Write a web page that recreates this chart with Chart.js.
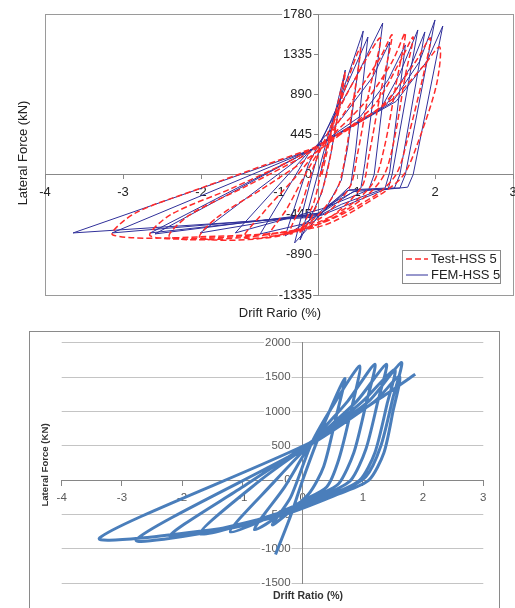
<!DOCTYPE html>
<html><head><meta charset="utf-8">
<script src="https://cdn.jsdelivr.net/npm/chart.js@4.4.1/dist/chart.umd.min.js"></script>
<style>
html,body{margin:0;padding:0;background:#fff;}
#wrap{position:relative;width:515px;height:608px;overflow:hidden;background:#fff;}
.box{position:absolute;left:0;width:515px;}
</style></head><body>
<div id="wrap">
<div class="box" style="top:0;height:320px"><canvas id="c1" width="515" height="320"></canvas></div>
<div class="box" style="top:320px;height:288px"><canvas id="c2" width="515" height="288"></canvas></div>
</div>
<script>
// ---------- top chart: tick labels ----------
const TOP_X_TICK_VALUES = [-4, -3, -2, -1, 0, 1, 2];
const TOP_X_TICK_LABELS = ['-4', '-3', '-2', '-1', '1', '2', '3'];
const TOP_Y_TICKS = [-1335, -890, -445, 0, 445, 890, 1335, 1780];
const TOP_SERIES_NAMES = ['Test-HSS 5', 'FEM-HSS 5'];
const TOP_X_TITLE = 'Drift Rario (%)';
const TOP_Y_TITLE = 'Lateral Force (kN)';

// ---------- top chart: series (drift, force) ----------
const TEST_HSS5 = [
 [-0.45,0],[-0.15,1137],[-0.3,400],[-0.42,-100],[-0.6,-500],[-0.73,-636],
 [-0.55,-300],[-0.42,200],[-0.25,700],[0.04,1403],[-0.05,800],[-0.15,200],[-0.25,-150],[-0.5,-450],[-0.86,-658],
 [-0.7,-300],[-0.55,100],[-0.3,600],[0.0,1100],[0.3,1514],[0.15,900],[0.0,200],[-0.1,-150],[-0.5,-500],[-1.12,-680],
 [-0.9,-380],[-0.6,100],[-0.3,500],[0.0,900],[0.3,1300],[0.45,1547],[0.3,900],[0.15,200],[0.05,-150],[-0.5,-550],[-1.44,-703],
 [-1.2,-420],[-0.8,-40],[-0.45,320],[0.1,800],[0.45,1250],[0.62,1569],[0.5,1000],[0.35,300],[0.2,-100],[-0.2,-400],[-1.0,-680],[-2.01,-703],
 [-1.8,-480],[-1.2,-150],[-0.6,200],[0.2,750],[0.55,1250],[0.72,1525],[0.62,1100],[0.48,400],[0.35,0],[0.1,-250],[-0.5,-550],[-1.5,-700],[-2.40,-692],
 [-2.15,-450],[-1.4,-120],[-0.7,200],[0.3,750],[0.75,1250],[0.94,1514],[0.85,1100],[0.65,400],[0.5,0],[0.2,-250],[-0.6,-580],[-1.8,-700],[-2.65,-680],
 [-2.4,-450],[-1.6,-150],[-0.8,180],[0.4,800],[0.85,1200],[1.06,1414],[1.02,1000],[0.8,400],[0.6,0],[0.3,-220],[-0.5,-580],[-2.0,-690],[-3.13,-669],
 [-2.85,-430],[-2.0,-150],[-1.2,100],[-0.6,280]
];
const FEM_HSS5 = [
 [-0.47,0],[-0.15,1159],[-0.33,250],[-0.45,-200],[-0.73,-725],
 [-0.52,-50],[-0.35,500],[0.08,1592],[-0.12,300],[-0.2,-60],[-0.4,-380],[-0.80,-758],
 [-0.58,-20],[-0.45,380],[-0.15,950],[0.14,1525],[-0.02,250],[-0.08,-120],[-0.42,-400],[-0.92,-680],
 [-0.62,120],[-0.35,560],[0.0,1100],[0.33,1680],[0.1,120],[0.05,-150],[-0.35,-330],[-0.55,-520],[-1.24,-658],
 [-0.63,220],[-0.2,620],[0.2,1080],[0.42,1469],[0.22,0],[0.15,-170],[-0.45,-380],[-1.56,-647],
 [-0.62,250],[0.05,650],[0.4,1050],[0.62,1437],[0.42,30],[0.36,-150],[-0.1,-170],[-0.45,-420],[-2.01,-647],
 [-0.61,265],[0.3,720],[0.55,1120],[0.78,1603],[0.45,0],[0.4,-160],[-0.12,-175],[-0.5,-430],[-2.59,-658],
 [-0.6,270],[0.38,780],[0.68,1180],[0.87,1581],[0.55,0],[0.48,-150],[-0.05,-190],[-0.48,-440],[-2.65,-647],
 [-0.61,265],[0.45,800],[0.8,1250],[1.0,1714],[0.62,0],[0.55,-150],[0.4,-150],[-0.45,-450],[-3.14,-647],
 [-0.6,270],[0.5,810],[0.9,1260],[1.10,1647],[0.72,0],[0.65,-140],[0.3,-170],[-0.2,-330],[-0.52,-470],[-3.64,-647],
 [-0.6,270]
];

// ---------- bottom chart ----------
const BOT_X_TICKS = [-4, -3, -2, -1, 0, 1, 2, 3];
const BOT_Y_TICKS = [-1500, -1000, -500, 0, 500, 1000, 1500, 2000];
const BOT_X_TITLE = 'Drift Ratio (%)';
const BOT_Y_TITLE = 'Lateral Force (KN)';
const FEM_CURVE = [
 [-0.45,-1080],[-0.2,-520],[0,0],[0.3,700],[0.70,1478],[0.55,900],[0.35,200],[0.1,-200],[-0.5,-650],
 [-0.2,-250],[0.15,540],[0.55,1150],[0.95,1662],[0.8,1000],[0.6,300],[0.4,-100],[0.0,-300],[-0.8,-720],
 [-0.3,-100],[0.15,545],[0.75,1150],[1.20,1687],[1.05,1100],[0.85,400],[0.6,-50],[0.3,-200],[-0.2,-400],[-1.2,-750],
 [-0.5,-50],[0.15,545],[0.9,1150],[1.39,1687],[1.25,1150],[1.05,450],[0.8,0],[0.4,-200],[-0.3,-450],[-1.7,-780],
 [-0.7,0],[0.15,545],[1.0,1150],[1.53,1612],[1.40,1100],[1.2,400],[0.95,0],[0.5,-200],[-0.4,-500],[-2.2,-820],
 [-1.0,-100],[0.12,545],[1.1,1150],[1.64,1711],[1.5,1200],[1.3,500],[1.05,50],[0.6,-180],[-0.2,-450],[-1.2,-700],[-2.76,-864],
 [0.1,500],[1.2,1150],[1.61,1512],[1.5,1000],[1.35,400],[1.1,0],[0.6,-200],[-0.3,-500],[-1.5,-720],[-3.37,-840],
 [0.12,545],[1.3,1200],[1.87,1541]
];

const toPts = arr => arr.map(p => ({x: p[0], y: p[1]}));
const noPad = s => { s.paddingLeft = 0; s.paddingRight = 0; s.paddingTop = 0; s.paddingBottom = 0; };

// ---------- top chart ----------
const topDecor = {
  id: 'topDecor',
  beforeDraw(chart) {
    const {ctx, chartArea: a} = chart;
    ctx.save();
    ctx.strokeStyle = '#9a9a9a'; ctx.lineWidth = 1;
    ctx.strokeRect(Math.round(a.left) + 0.5, Math.round(a.top) + 0.5, Math.round(a.right - a.left), Math.round(a.bottom - a.top));
    ctx.restore();
  },
  afterDraw(chart) {
    const {ctx, chartArea: a} = chart;
    ctx.save();
    ctx.fillStyle = '#222';
    ctx.font = '13px "Liberation Sans", Arial, sans-serif';
    ctx.textAlign = 'center'; ctx.textBaseline = 'middle';
    ctx.fillText(TOP_X_TITLE, 280, a.bottom + 18);
    ctx.translate(23, 153);
    ctx.rotate(-Math.PI / 2);
    ctx.fillText(TOP_Y_TITLE, 0, 0);
    ctx.restore();
    // legend
    const bx = a.right - 111, by = a.bottom - 45, bw = 98, bh = 33;
    ctx.save();
    ctx.fillStyle = '#fff'; ctx.fillRect(bx, by, bw, bh);
    ctx.strokeStyle = '#8a8a8a'; ctx.lineWidth = 1;
    ctx.strokeRect(bx + 0.5, by + 0.5, bw, bh);
    ctx.font = '13px "Liberation Sans", Arial, sans-serif';
    ctx.textBaseline = 'middle'; ctx.textAlign = 'left';
    chart.data.datasets.forEach((ds, i) => {
      const y = by + 9 + i * 16;
      ctx.strokeStyle = ds.borderColor; ctx.lineWidth = ds.borderWidth;
      ctx.setLineDash(ds.borderDash || []);
      ctx.beginPath(); ctx.moveTo(bx + 4, y); ctx.lineTo(bx + 26, y); ctx.stroke();
      ctx.setLineDash([]);
      ctx.fillStyle = '#222';
      ctx.fillText(ds.label, bx + 29, y);
    });
    ctx.restore();
  }
};

const topFont = {family: '"Liberation Sans", Arial', size: 13};
new Chart(document.getElementById('c1'), {
  type: 'scatter',
  data: {
    datasets: [
      {label: TOP_SERIES_NAMES[0], data: toPts(TEST_HSS5), xAxisID: 'x', yAxisID: 'y', showLine: true, borderColor: '#ff2a2a', borderWidth: 1.5, borderDash: [6, 3], tension: 0.3, pointRadius: 0},
      {label: TOP_SERIES_NAMES[1], data: toPts(FEM_HSS5), xAxisID: 'x', yAxisID: 'y', showLine: true, borderColor: '#30309a', borderWidth: 1, tension: 0, pointRadius: 0}
    ]
  },
  options: {
    responsive: false, animation: false, events: [],
    layout: {padding: {left: 45, top: 14, right: 2, bottom: 25}},
    plugins: {legend: {display: false}, tooltip: {enabled: false}},
    scales: {
      x: {
        type: 'linear', axis: 'x', min: -4, max: 2, position: {y: 0},
        afterBuildTicks: s => { s.ticks = TOP_X_TICK_VALUES.map(v => ({value: v})); },
        afterFit: noPad,
        ticks: {callback: (v, i) => TOP_X_TICK_LABELS[i], color: '#222', font: topFont, padding: 6, maxRotation: 0, autoSkip: false},
        grid: {drawOnChartArea: false, drawTicks: true, tickLength: 4, color: '#888'},
        border: {display: true, color: '#888'}
      },
      y: {
        type: 'linear', axis: 'y', min: -1335, max: 1780, position: {x: -0.5},
        afterBuildTicks: s => { s.ticks = TOP_Y_TICKS.map(v => ({value: v})); },
        afterFit: noPad,
        ticks: {display: false},
        grid: {drawOnChartArea: false, drawTicks: true, tickLength: 4, color: '#888'},
        border: {display: true, color: '#888'}
      },
      yLab: {
        type: 'linear', axis: 'y', min: -1335, max: 1780, position: {x: -0.5 - 6 / 78},
        afterBuildTicks: s => { s.ticks = TOP_Y_TICKS.map(v => ({value: v})); },
        afterFit: noPad,
        ticks: {callback: v => String(v), color: '#222', font: topFont, padding: 0, autoSkip: false,
                showLabelBackdrop: true, backdropColor: '#ffffff', backdropPadding: 1},
        grid: {display: false},
        border: {display: false}
      }
    }
  },
  plugins: [topDecor]
});

// ---------- bottom chart ----------
const botDecor = {
  id: 'botDecor',
  beforeDraw(chart) {
    const {ctx} = chart;
    ctx.save();
    ctx.strokeStyle = '#8a8a8a'; ctx.lineWidth = 1;
    ctx.strokeRect(29.5, 11.5, 470, 300);
    ctx.restore();
  },
  afterDraw(chart) {
    const {ctx, chartArea: a} = chart;
    ctx.save();
    ctx.fillStyle = '#333';
    ctx.font = 'bold 10.5px "Liberation Sans", Arial, sans-serif';
    ctx.textAlign = 'center'; ctx.textBaseline = 'middle';
    ctx.fillText(BOT_X_TITLE, 308, a.bottom + 13);
    ctx.translate(45, 145);
    ctx.rotate(-Math.PI / 2);
    ctx.font = 'bold 9.6px "Liberation Sans", Arial, sans-serif';
    ctx.fillText(BOT_Y_TITLE, 0, 0);
    ctx.restore();
  }
};

const botFont = {family: '"Liberation Sans", Arial', size: 11.5};
new Chart(document.getElementById('c2'), {
  type: 'scatter',
  data: {
    datasets: [
      {label: 'FEM', data: toPts(FEM_CURVE), xAxisID: 'x', yAxisID: 'y', showLine: true, borderColor: '#4a7ebb', borderWidth: 3, tension: 0.25, pointRadius: 0}
    ]
  },
  options: {
    responsive: false, animation: false, events: [],
    layout: {padding: {left: 61.7, top: 22.7, right: 31.7, bottom: 24.7}},
    plugins: {legend: {display: false}, tooltip: {enabled: false}},
    scales: {
      x: {
        type: 'linear', axis: 'x', min: -4, max: 3, position: {y: 0},
        afterBuildTicks: s => { s.ticks = BOT_X_TICKS.map(v => ({value: v})); },
        afterFit: noPad,
        ticks: {callback: v => String(v), color: '#595959', font: botFont, padding: 6, maxRotation: 0, autoSkip: false},
        grid: {drawOnChartArea: false, drawTicks: true, tickLength: 5, color: '#868686'},
        border: {display: true, color: '#868686'}
      },
      y: {
        type: 'linear', axis: 'y', min: -1500, max: 2000, position: {x: 0},
        afterBuildTicks: s => { s.ticks = BOT_Y_TICKS.map(v => ({value: v})); },
        afterFit: noPad,
        ticks: {display: false},
        grid: {drawOnChartArea: true, drawTicks: false, color: '#c4c4c4'},
        border: {display: true, color: '#868686'}
      },
      yLab: {
        type: 'linear', axis: 'y', min: -1500, max: 2000, position: {x: -12 / 60.2},
        afterBuildTicks: s => { s.ticks = BOT_Y_TICKS.map(v => ({value: v})); },
        afterFit: noPad,
        ticks: {callback: v => String(v), color: '#595959', font: botFont, padding: 0, autoSkip: false,
                showLabelBackdrop: true, backdropColor: '#ffffff', backdropPadding: 1},
        grid: {display: false},
        border: {display: false}
      }
    }
  },
  plugins: [botDecor]
});
</script>
</body></html>
